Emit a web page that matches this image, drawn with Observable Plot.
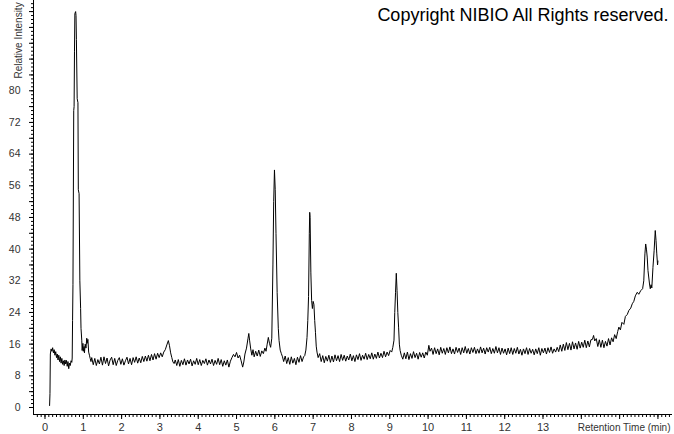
<!DOCTYPE html>
<html><head><meta charset="utf-8">
<script src="https://cdn.jsdelivr.net/npm/d3@7"></script>
<script src="https://cdn.jsdelivr.net/npm/@observablehq/plot@0.6"></script>
<style>body{margin:0;background:#fff;}</style>
</head><body><div id="chart"></div>
<script>
// [retention time (min), relative intensity]
const trace = [
[0.12,0.5],[0.13,3.5],[0.14,13.5],[0.16,14.8],[0.18,14.2],[0.20,15.1],[0.22,13.8],[0.24,14.6],[0.26,13.2],[0.28,14.1],[0.30,12.6],[0.32,13.5],[0.34,12.0],[0.36,13.2],[0.38,11.6],[0.40,12.8],[0.42,11.2],[0.44,12.4],[0.46,10.9],[0.48,11.8],[0.50,10.6],[0.52,12.0],[0.54,11.0],[0.56,11.9],[0.58,10.4],[0.60,11.6],[0.62,9.8],[0.64,11.2],[0.66,10.6],[0.68,11.8],[0.70,11.4],
[0.71,12.5],[0.72,22],[0.73,31],[0.75,75],[0.76,76],[0.77,90],[0.78,99.5],[0.80,100],[0.81,99],[0.82,93],[0.84,78],[0.86,77],[0.87,55],[0.89,54],[0.91,32],[0.93,25],[0.94,20],[0.96,17],[0.97,14.4],[0.99,16.2],[1.00,14.2],[1.02,15.4],[1.03,13.8],[1.05,16.0],[1.07,15.0],[1.09,17.5],[1.10,16.2],[1.12,17.2],[1.14,14.0],[1.16,13.2],[1.18,12.4],[1.20,11.6],
[1.22,12.6],[1.26,10.8],[1.30,12.4],[1.34,10.6],[1.38,12.1],[1.42,11.0],[1.46,12.7],[1.50,10.7],[1.54,12.8],[1.58,11.1],[1.62,12.5],[1.66,10.5],[1.70,12.0],[1.74,12.7],[1.78,10.8],[1.82,12.4],[1.86,10.6],[1.90,11.9],[1.94,12.6],[1.98,10.9],[2.02,12.3],[2.06,10.7],[2.10,11.8],[2.14,12.7],[2.18,11.0],[2.22,12.4],[2.26,10.8],[2.30,12.6],[2.34,11.4],[2.38,12.8],[2.42,11.2],[2.46,12.5],[2.50,11.3],[2.54,12.9],[2.58,11.6],[2.62,13.0],[2.66,11.7],[2.70,13.2],[2.74,11.8],[2.78,13.4],[2.82,12.0],[2.86,13.6],[2.90,12.2],[2.94,13.7],[2.98,12.6],[3.02,13.8],[3.06,12.8],[3.10,14.0],[3.14,14.6],[3.18,15.8],[3.22,16.9],[3.25,15.6],[3.28,13.8],[3.31,12.6],[3.34,11.5],[3.37,11.1],[3.40,12.0],
[3.44,10.6],[3.48,12.1],[3.52,10.4],[3.56,11.9],[3.60,10.8],[3.64,12.3],[3.68,10.7],[3.72,12.0],[3.76,11.0],[3.80,12.2],[3.84,10.5],[3.88,11.8],[3.92,10.9],[3.96,12.4],[4.00,10.8],[4.04,12.1],[4.08,10.6],[4.12,11.9],[4.16,11.1],[4.20,12.3],[4.24,10.7],[4.28,12.0],[4.32,11.0],[4.36,12.2],[4.40,10.6],[4.44,11.9],[4.48,10.9],[4.52,12.4],[4.56,10.8],[4.60,12.1],[4.64,10.4],[4.68,11.8],[4.72,10.7],[4.76,12.0],[4.80,10.2],[4.84,11.7],
[4.88,12.6],[4.92,13.4],[4.96,12.8],[5.00,13.9],[5.04,12.5],[5.08,13.2],[5.12,11.8],[5.16,10.2],[5.19,11.5],[5.22,13.5],[5.26,15.0],[5.30,17.5],[5.32,18.7],[5.34,17.0],[5.37,14.8],[5.40,13.2],[5.43,14.6],[5.46,12.8],[5.50,14.2],[5.54,13.0],[5.58,14.5],[5.62,12.9],[5.66,14.3],[5.70,13.6],[5.74,15.0],[5.77,14.2],[5.80,16.0],[5.83,17.7],[5.86,16.2],[5.89,15.2],[5.92,17.5],[5.95,36],[5.97,52],[5.99,60],[6.01,55],[6.03,44],[6.06,29],[6.09,20],[6.11,16.9],[6.14,14.5],[6.17,13.6],[6.20,12.8],[6.23,11.6],
[6.27,13.0],[6.31,11.1],[6.35,12.6],[6.39,10.9],[6.43,12.8],[6.47,11.2],[6.51,12.4],[6.55,10.8],[6.59,12.7],[6.63,11.4],[6.67,13.1],[6.71,11.6],[6.75,12.8],[6.78,13.1],
[6.81,14.5],[6.84,17.7],[6.86,22],[6.88,28],[6.90,44],[6.91,49.3],[6.92,48],[6.94,34],[6.96,27],[6.98,25],[7.00,26.8],[7.02,26.0],[7.04,22],[7.06,19],[7.08,15.5],[7.10,14.0],[7.13,12.6],
[7.17,13.6],[7.21,11.6],[7.25,13.1],[7.29,11.3],[7.33,12.9],[7.37,11.7],[7.41,13.2],[7.45,11.4],[7.49,13.0],[7.53,11.5],[7.57,13.3],[7.61,11.8],[7.65,13.1],[7.69,11.6],[7.73,13.4],[7.77,11.9],[7.81,13.2],[7.85,11.7],[7.89,13.0],[7.93,12.0],[7.97,13.5],[8.01,11.8],[8.05,13.1],[8.09,11.6],[8.13,13.3],[8.17,12.1],[8.21,13.6],[8.25,11.9],[8.29,13.2],[8.33,12.2],[8.37,13.7],[8.41,12.1],[8.45,13.4],[8.49,12.3],[8.53,13.8],[8.57,12.2],[8.61,13.5],[8.65,12.4],[8.69,14.0],[8.73,12.5],[8.77,13.7],[8.81,12.6],[8.85,14.2],[8.89,12.8],[8.93,14.0],[8.97,13.1],[9.01,14.4],[9.05,14.0],[9.08,15.2],
[9.11,17],[9.13,24],[9.15,29],[9.17,33.9],[9.19,29.5],[9.21,24],[9.23,20.3],[9.25,16],[9.27,14.4],[9.30,13.2],
[9.34,12.2],[9.38,13.8],[9.42,12.3],[9.46,14.0],[9.50,12.1],[9.54,13.6],[9.58,12.4],[9.62,14.1],[9.66,12.6],[9.70,13.7],[9.74,12.2],[9.78,13.9],[9.82,12.7],[9.86,13.8],[9.90,12.5],[9.94,14.0],[9.98,13.2],[10.02,15.7],[10.05,14.2],
[10.09,15.0],[10.13,13.4],[10.17,15.1],[10.21,13.6],[10.25,14.8],[10.29,13.3],[10.33,15.2],[10.37,13.7],[10.41,14.9],[10.45,13.4],[10.49,15.1],[10.53,13.8],[10.57,15.3],[10.61,13.6],[10.65,14.8],[10.69,13.5],[10.73,15.2],[10.77,13.9],[10.81,15.0],[10.85,13.4],[10.89,15.1],[10.93,13.8],[10.97,15.4],[11.01,13.7],[11.05,14.9],[11.09,13.5],[11.13,15.1],[11.17,13.9],[11.21,15.2],[11.25,13.6],[11.29,14.8],[11.33,13.7],[11.37,15.3],[11.41,13.8],[11.45,15.0],[11.49,13.5],[11.53,15.1],[11.57,14.0],[11.61,15.2],[11.65,13.6],[11.69,14.9],[11.73,13.7],[11.77,15.4],[11.81,13.8],[11.85,15.1],[11.89,13.4],[11.93,15.0],[11.97,13.7],[12.01,14.8],[12.05,13.3],[12.09,15.0],[12.13,13.6],[12.17,15.1],[12.21,13.4],[12.25,14.9],[12.29,13.7],[12.33,15.2],[12.37,13.5],[12.41,14.7],[12.45,13.2],[12.49,14.8],[12.53,13.6],[12.57,15.1],[12.61,13.4],[12.65,14.9],[12.69,13.7],[12.73,14.7],[12.77,13.3],[12.81,14.8],[12.85,13.6],[12.89,15.1],[12.93,13.2],[12.97,14.9],[13.01,13.8],[13.05,15.0],[13.09,13.5],[13.13,15.1],[13.17,13.9],[13.21,15.3],[13.25,13.7],[13.29,14.8],[13.33,14.0],[13.37,15.2],
[13.41,14.1],[13.45,15.8],[13.49,14.2],[13.53,16.0],[13.57,14.4],[13.61,16.4],[13.65,14.6],[13.69,16.2],[13.73,14.5],[13.77,16.6],[13.81,14.8],[13.85,16.3],[13.89,14.7],[13.93,16.7],[13.97,15.0],[14.01,16.5],[14.05,15.2],[14.09,17.0],[14.13,15.1],[14.17,16.8],[14.21,15.3],[14.25,17.1],[14.29,17.2],[14.32,18.2],[14.35,16.8],[14.39,17.4],[14.43,15.4],[14.47,17.1],[14.51,15.2],[14.55,17.0],[14.59,15.1],[14.63,16.7],[14.67,15.5],[14.71,17.4],[14.75,15.8],[14.79,17.6],[14.83,16.6],[14.87,18.4],[14.91,17.4],[14.95,19.2],[14.98,20.3],[15.02,19.6],[15.06,21.5],[15.11,21.0],[15.15,23.0],[15.20,23.5],[15.24,24.5],[15.29,25.1],[15.33,26.2],[15.37,26.8],[15.41,28.2],[15.46,29.1],[15.50,28.6],[15.55,29.5],[15.60,30.0],[15.63,32.0],[15.66,38.8],[15.68,41.3],[15.70,40.0],[15.72,38.0],[15.74,34.6],[15.78,31.2],[15.80,30.0],[15.82,31.0],[15.84,30.2],[15.87,35.4],[15.90,39.6],[15.93,44.7],[15.95,42.2],[15.97,38.8],[15.99,36.0],[16.00,37.0]
];
const xTickLabels = [0,1,2,3,4,5,6,7,8,9,10,11,12,13];
const yTickLabels = [0,8,16,24,32,40,48,56,64,72,80];
const xTitle = "Retention Time (min)";
const yTitle = "Relative Intensity";
const copyright = "Copyright NIBIO All Rights reserved.";
const xDomain = [-0.3, 16.38];
const yDomain = [-1.77, 102.8];

const font = "'Liberation Sans', Arial, sans-serif";
const xMinor = d3.range(-2, 164).map(i => i / 10);
const xMajor = d3.range(0, 17);
const yMinor = d3.range(0, 103);
const yMajor = d3.range(0, 103, 4);

const chart = Plot.plot({
  width: 674,
  height: 434,
  marginLeft: 33,
  marginRight: 2,
  marginTop: 0,
  marginBottom: 20,
  style: {background: "#fff", fontFamily: font, color: "#000", overflow: "visible"},
  x: {domain: xDomain},
  y: {domain: yDomain},
  marks: [
    Plot.ruleY([yDomain[0]], {stroke: "#000"}),
    Plot.ruleX([xDomain[0]], {stroke: "#000"}),
    Plot.axisX(xMinor, {tickSize: 3, fill: "none", label: null, stroke: "#000"}),
    Plot.axisX(xMajor, {tickSize: 5, fill: "none", label: null, stroke: "#000"}),
    Plot.axisX(xTickLabels, {tickSize: 0, tickPadding: 9, fontSize: 11, fill: "#333", label: null, tickFormat: d => String(d)}),
    Plot.axisY(yMinor, {tickSize: 2, fill: "none", label: null, stroke: "#000"}),
    Plot.axisY(yMajor, {tickSize: 4, fill: "none", label: null, stroke: "#000"}),
    Plot.axisY(yTickLabels, {tickSize: 0, tickPadding: 13, fontSize: 10.5, fill: "#333", label: null, tickFormat: d => String(d)}),
    Plot.line(trace, {x: d => d[0], y: d => d[1], stroke: "#000", strokeWidth: 1}),
    Plot.text([xTitle], {frameAnchor: "bottom-right", text: d => d, dx: -2, dy: 13, fontSize: 10, fill: "#333", textAnchor: "end", lineAnchor: "middle"}),
    Plot.text([yTitle], {frameAnchor: "top-left", text: d => d, dx: -15, dy: 78, rotate: -90, fontSize: 10, fill: "#333", textAnchor: "start", lineAnchor: "middle"}),
    Plot.text([copyright], {frameAnchor: "top-right", text: d => d, dx: -4, dy: 15, fontSize: 18, fill: "#000", textAnchor: "end", lineAnchor: "middle", letterSpacing: 0.4})
  ]
});
document.getElementById("chart").appendChild(chart);
</script>
</body></html>
